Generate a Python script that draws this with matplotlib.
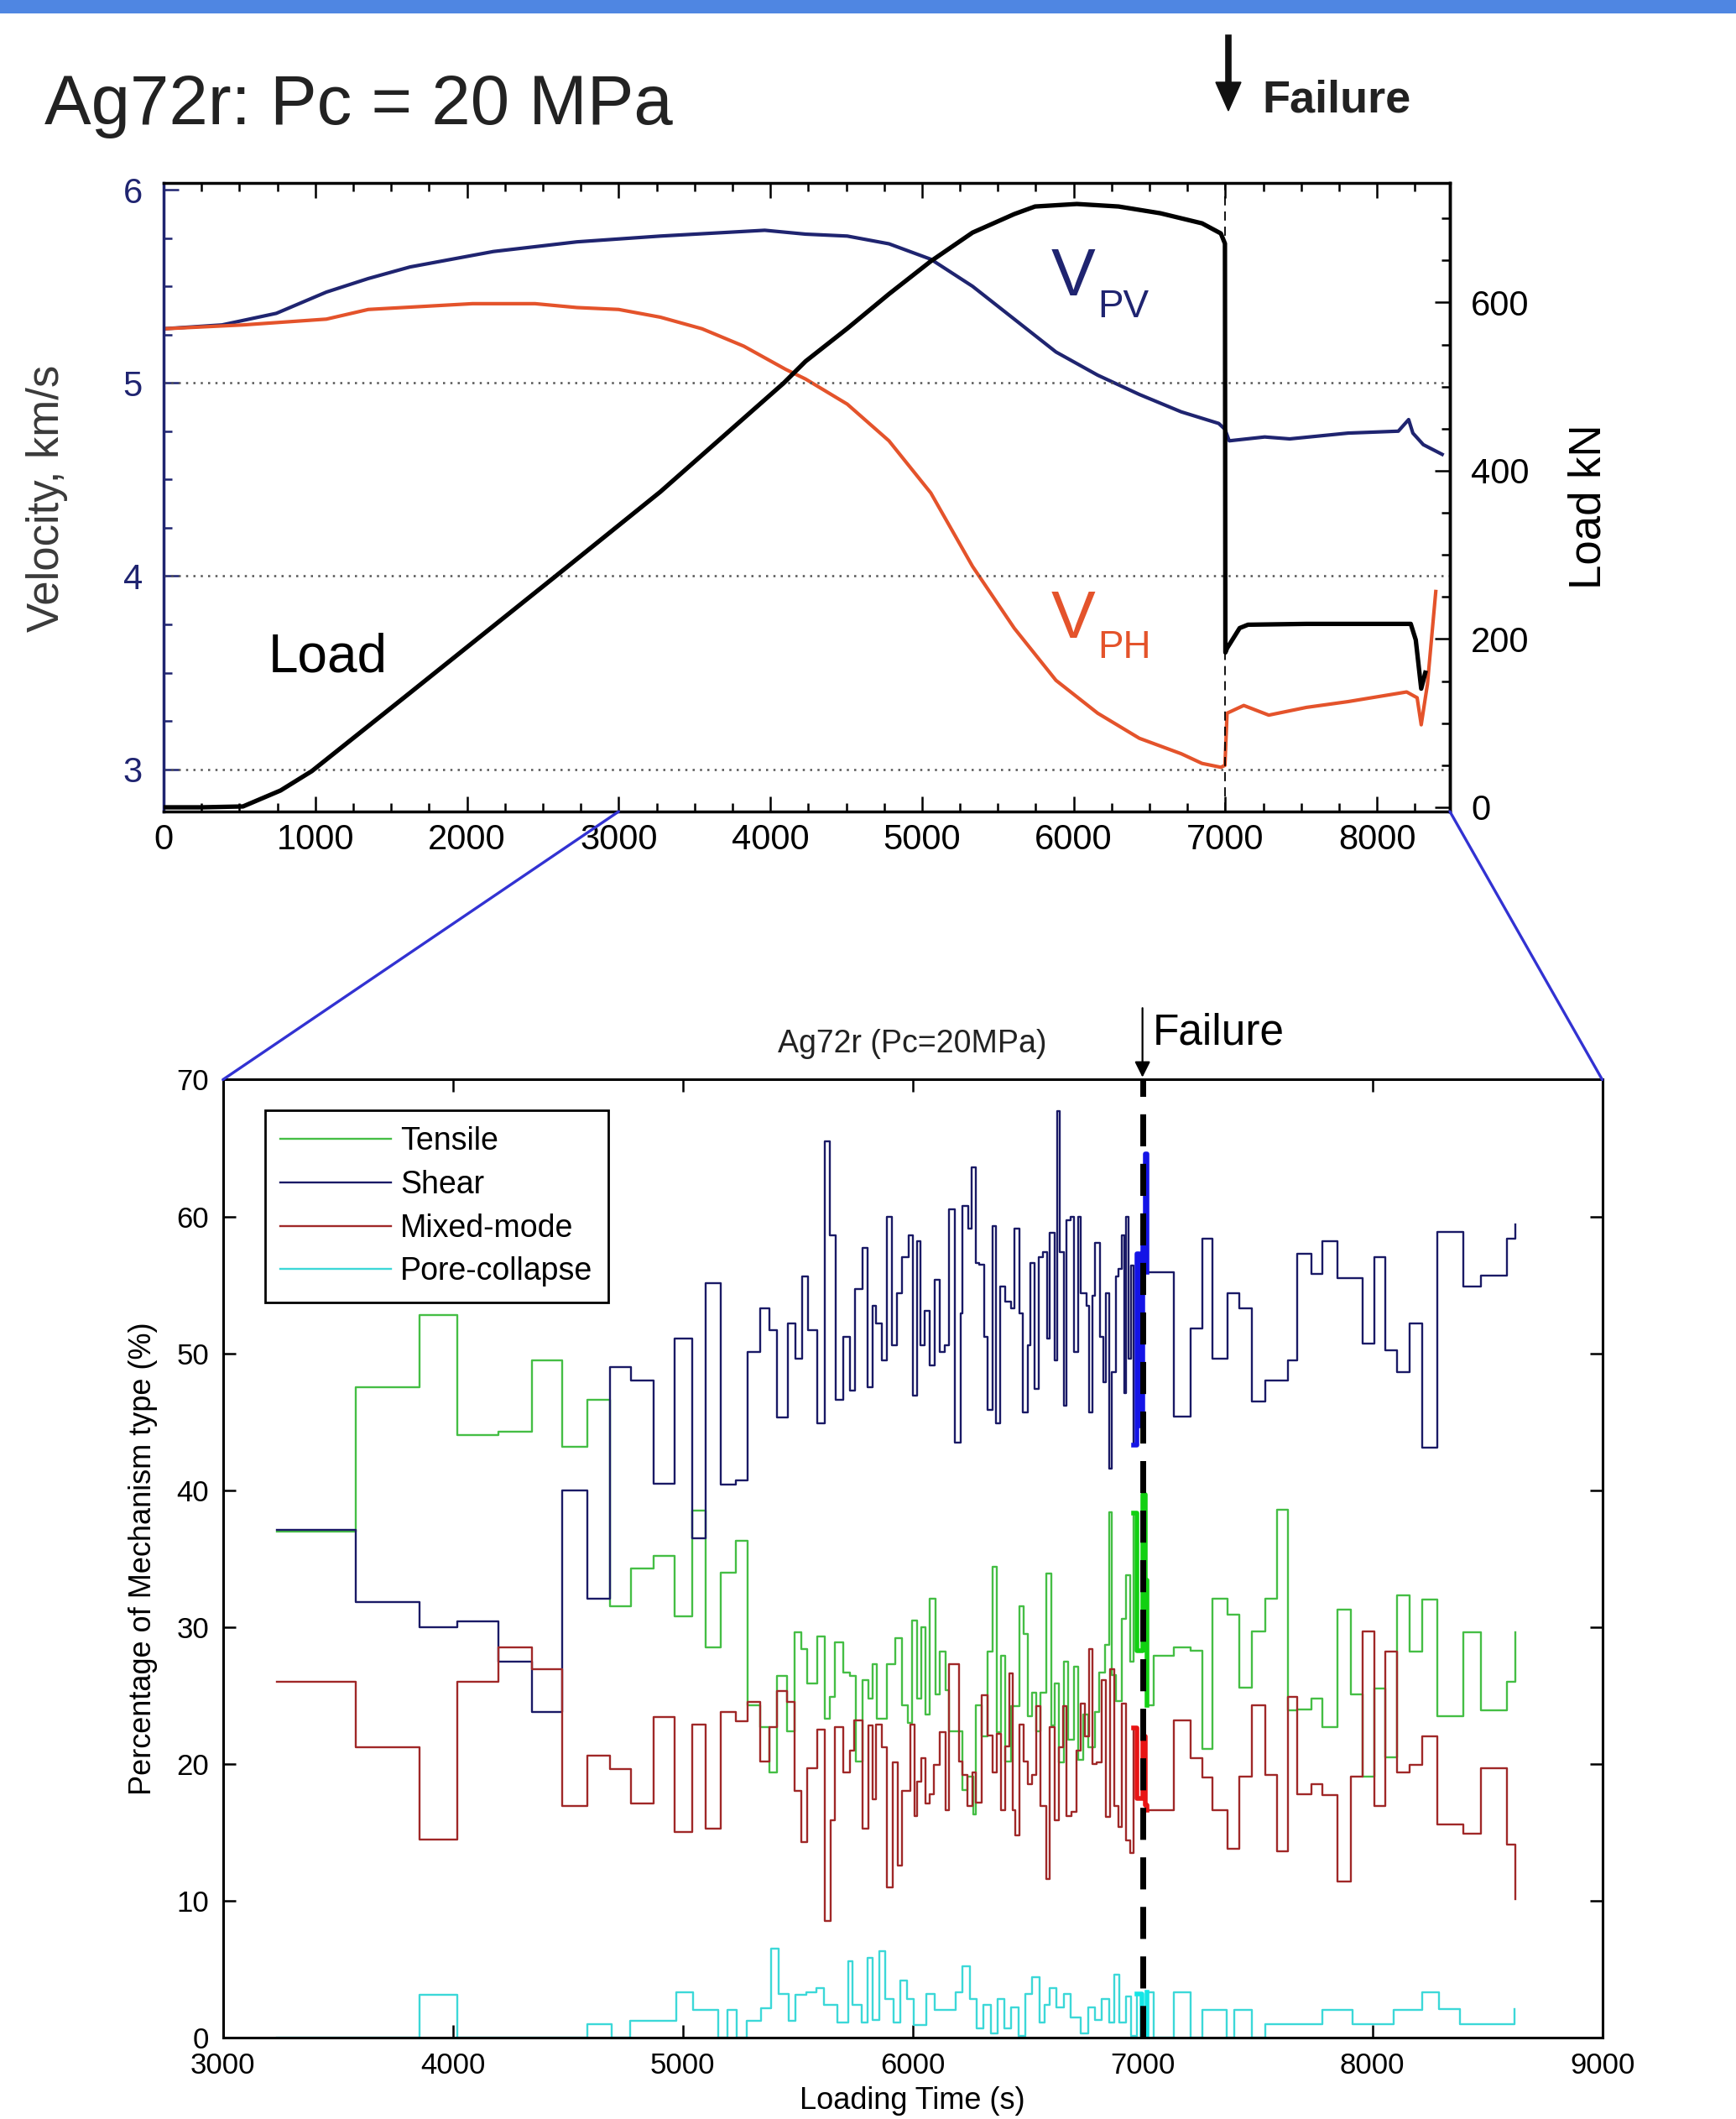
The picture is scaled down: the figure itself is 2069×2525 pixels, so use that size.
import numpy as np
import matplotlib.pyplot as plt
from matplotlib.patches import Rectangle, ConnectionPatch
from matplotlib.lines import Line2D

# ---- top panel: velocities and load vs time ----
vpv_t = [0, 385, 743, 1073, 1349, 1624, 2174, 2724, 3275, 3963, 4232, 4507, 4782, 5058, 5333,
         5608, 5883, 6158, 6433, 6709, 6956, 6997, 7025, 7259, 7424, 7809, 8140, 8208, 8236,
         8305, 8429]
vpv = [5.28, 5.30, 5.36, 5.47, 5.54, 5.60, 5.68, 5.73, 5.76, 5.79, 5.77, 5.76, 5.72, 5.64, 5.50,
       5.33, 5.16, 5.04, 4.94, 4.85, 4.79, 4.76, 4.70, 4.72, 4.71, 4.74, 4.75, 4.81, 4.74,
       4.68, 4.63]

vph_t = [0, 523, 1073, 1349, 2036, 2449, 2724, 3000, 3275, 3550, 3825, 4101, 4232, 4507, 4782,
         5058, 5333, 5608, 5883, 6158, 6433, 6709, 6846, 6970, 6997, 7011, 7121, 7286, 7534,
         7809, 8195, 8264, 8291, 8332, 8387]
vph = [5.28, 5.30, 5.33, 5.38, 5.41, 5.41, 5.39, 5.38, 5.34, 5.28, 5.19, 5.07, 5.02, 4.89, 4.70,
       4.43, 4.05, 3.73, 3.46, 3.29, 3.16, 3.08, 3.03, 3.01, 3.02, 3.29, 3.33, 3.28, 3.32,
       3.35, 3.40, 3.37, 3.23, 3.44, 3.92]

load_t = [0, 248, 523, 771, 977, 1624, 2573, 3275, 4087, 4232, 4507, 4782, 5058, 5333, 5608,
          5745, 6021, 6296, 6571, 6846, 6970, 6997, 7000, 7011, 7094, 7149, 7534, 8222, 8255,
          8291, 8318]
load_kn = [0, 0, 1, 20, 43, 136, 273, 375, 504, 530, 569, 610, 649, 683, 705,
           714, 717, 714, 706, 694, 682, 670, 184, 189, 213, 217, 218, 218, 199,
           141, 160]

# ---- bottom panel: mechanism percentages (stairs) ----
shear_t = [3233, 3576, 3855, 4020, 4199, 4344, 4474, 4586, 4684, 4775,
           4875, 4964, 5042, 5098, 5166, 5231, 5282, 5337, 5378, 5410,
           5457, 5489, 5519, 5544, 5585, 5619, 5641, 5664, 5698, 5729,
           5750, 5783, 5804, 5826, 5842, 5868, 5889, 5911, 5932, 5954,
           5984, 6002, 6021, 6033, 6051, 6075, 6096, 6118, 6140, 6160,
           6185, 6209, 6218, 6242, 6258, 6276, 6288, 6310, 6327, 6349,
           6364, 6382, 6401, 6428, 6444, 6465, 6479, 6501, 6513, 6531,
           6550, 6568, 6586, 6598, 6617, 6629, 6641, 6659, 6671, 6687,
           6702, 6720, 6732, 6756, 6769, 6781, 6793, 6817, 6830, 6842,
           6854, 6866, 6884, 6896, 6909, 6921, 6927, 6939, 6951, 6963,
           6975, 6988, 7000, 7012, 7019, 7138, 7208, 7259, 7306, 7371,
           7422, 7475, 7534, 7631, 7673, 7736, 7783, 7848, 7957, 8008,
           8055, 8109, 8162, 8218, 8283, 8395, 8474, 8586, 8621]
shear = [37.1, 31.8, 30.0, 30.4, 27.5, 23.8, 40.0, 32.1, 49.0, 48.0,
         40.5, 51.1, 36.5, 55.1, 40.4, 40.7, 50.1, 53.3, 51.7, 45.3,
         52.2, 49.6, 55.6, 51.7, 44.9, 65.5, 58.6, 46.6, 51.2, 47.3,
         54.7, 57.7, 47.5, 53.5, 52.2, 49.5, 60.0, 50.6, 54.4, 57.0,
         58.6, 46.9, 58.2, 50.6, 53.1, 49.1, 55.4, 50.1, 50.6, 60.5,
         43.5, 52.9, 60.8, 59.1, 63.6, 56.6, 56.5, 51.2, 45.9, 59.3,
         44.9, 54.9, 53.8, 53.3, 59.1, 52.9, 45.7, 50.6, 56.6, 47.4,
         57.0, 57.4, 51.1, 58.8, 49.5, 67.7, 57.4, 46.2, 59.7, 60.0,
         50.1, 60.0, 54.4, 53.5, 45.7, 54.2, 58.1, 51.2, 47.9, 54.4,
         41.6, 48.6, 55.6, 56.2, 58.6, 47.1, 60.0, 49.6, 56.4, 43.3,
         57.3, 44.7, 59.2, 64.6, 55.9, 45.4, 51.8, 58.4, 49.6, 54.4,
         53.3, 46.5, 48.0, 49.5, 57.3, 55.8, 58.2, 55.5, 50.7, 57.0,
         50.2, 48.6, 52.2, 43.1, 58.9, 54.9, 55.7, 58.4, 59.4]

tensile_t = [3233, 3576, 3855, 4020, 4199, 4344, 4474, 4586, 4684, 4775,
             4875, 4964, 5042, 5098, 5166, 5231, 5282, 5337, 5376, 5410,
             5455, 5485, 5516, 5540, 5585, 5617, 5641, 5662, 5698, 5729,
             5753, 5783, 5808, 5826, 5844, 5887, 5923, 5954, 5978, 5996,
             6021, 6039, 6057, 6075, 6100, 6118, 6142, 6160, 6215, 6240,
             6264, 6276, 6300, 6325, 6349, 6367, 6386, 6404, 6428, 6465,
             6483, 6501, 6519, 6538, 6556, 6580, 6602, 6617, 6635, 6659,
             6677, 6702, 6720, 6744, 6763, 6793, 6811, 6836, 6854, 6866,
             6884, 6909, 6927, 6945, 6963, 6975, 7000, 7012, 7019, 7049,
             7138, 7208, 7259, 7306, 7371, 7422, 7475, 7534, 7585, 7631,
             7673, 7736, 7783, 7848, 7906, 7957, 8008, 8055, 8109, 8162,
             8218, 8283, 8395, 8474, 8586, 8621]
tensile = [37.0, 47.5, 52.8, 44.0, 44.3, 49.5, 43.2, 46.6, 31.5, 34.3,
           35.2, 30.8, 38.5, 28.5, 34.0, 36.3, 24.3, 22.7, 19.4, 26.4,
           22.4, 29.6, 28.4, 25.9, 29.3, 23.3, 24.9, 28.9, 26.7, 26.4,
           20.2, 26.1, 24.8, 27.3, 23.3, 27.3, 29.2, 24.3, 23.0, 30.5,
           24.8, 30.0, 23.6, 32.1, 25.1, 28.2, 25.4, 22.4, 18.1, 19.1,
           16.3, 24.3, 22.0, 28.2, 34.4, 22.3, 27.9, 20.2, 24.2, 31.5,
           29.5, 23.5, 25.2, 22.4, 25.2, 33.9, 22.8, 25.9, 20.1, 27.5,
           21.8, 27.1, 20.3, 23.6, 21.2, 23.8, 26.7, 28.7, 38.4, 26.5,
           24.6, 30.6, 33.8, 27.5, 38.3, 28.3, 39.7, 33.4, 24.3, 27.9,
           28.5, 28.3, 21.1, 32.1, 30.9, 25.6, 29.7, 32.1, 38.6, 23.9,
           24.0, 24.8, 22.7, 31.3, 25.1, 19.1, 25.5, 20.5, 32.3, 28.2,
           32.0, 23.5, 29.6, 23.9, 26.0, 29.6]

mixed_t = [3233, 3576, 3855, 4020, 4199, 4344, 4474, 4586, 4684, 4775,
           4875, 4964, 5042, 5098, 5166, 5231, 5282, 5337, 5376, 5410,
           5455, 5485, 5516, 5540, 5585, 5617, 5643, 5662, 5698, 5729,
           5747, 5783, 5808, 5826, 5842, 5868, 5887, 5913, 5935, 5954,
           5990, 6008, 6021, 6039, 6057, 6075, 6093, 6118, 6142, 6160,
           6203, 6218, 6240, 6261, 6276, 6300, 6325, 6349, 6367, 6386,
           6404, 6422, 6434, 6446, 6465, 6483, 6501, 6519, 6538, 6556,
           6580, 6598, 6617, 6635, 6653, 6671, 6690, 6714, 6732, 6750,
           6769, 6781, 6799, 6823, 6842, 6860, 6878, 6896, 6909, 6927,
           6945, 6963, 6975, 7000, 7012, 7019, 7138, 7208, 7259, 7306,
           7371, 7422, 7475, 7534, 7585, 7631, 7673, 7736, 7783, 7848,
           7906, 7957, 8008, 8055, 8109, 8162, 8218, 8283, 8395, 8474,
           8586, 8621]
mixed = [26.0, 21.2, 14.5, 26.0, 28.5, 26.9, 16.9, 20.6, 19.6, 17.1,
         23.4, 15.0, 22.9, 15.3, 23.8, 23.1, 24.5, 20.2, 22.7, 25.3,
         24.5, 18.0, 14.3, 19.7, 22.5, 8.5, 15.9, 22.7, 19.4, 21.0,
         23.2, 15.3, 22.8, 17.4, 22.9, 21.2, 11.0, 20.1, 12.6, 18.0,
         22.9, 16.2, 18.7, 20.4, 17.1, 17.8, 19.9, 22.3, 16.6, 27.3,
         20.2, 19.2, 16.9, 19.4, 17.2, 25.0, 22.1, 19.4, 22.2, 16.6,
         21.3, 26.6, 16.6, 14.8, 22.9, 20.2, 18.5, 19.2, 24.2, 16.9,
         11.6, 22.7, 15.9, 21.2, 24.2, 16.2, 16.5, 21.0, 24.4, 22.0,
         28.4, 20.0, 20.1, 26.1, 16.1, 26.9, 16.9, 15.4, 24.4, 14.4,
         13.5, 22.6, 17.5, 22.0, 17.0, 16.6, 23.2, 20.4, 19.0, 16.6,
         13.8, 19.1, 24.3, 19.2, 13.6, 24.9, 17.8, 18.5, 17.7, 11.4,
         19.1, 29.7, 16.9, 28.2, 19.4, 19.9, 22.0, 15.6, 14.9, 19.7,
         14.1, 10.1]

pore_t = [3233, 3855, 4020, 4586, 4690, 4772, 4971, 5044, 5153, 5196,
          5235, 5280, 5341, 5386, 5416, 5462, 5492, 5537, 5583, 5613,
          5674, 5719, 5740, 5779, 5804, 5825, 5855, 5880, 5916, 5946,
          5976, 6006, 6061, 6097, 6188, 6218, 6248, 6279, 6309, 6339,
          6369, 6400, 6430, 6460, 6491, 6521, 6551, 6575, 6596, 6627,
          6657, 6687, 6733, 6763, 6793, 6823, 6854, 6878, 6899, 6929,
          6951, 6975, 6996, 7019, 7049, 7138, 7208, 7259, 7368, 7398,
          7475, 7534, 7783, 7913, 8094, 8215, 8291, 8382, 8620]
pore = [0, 3.1, 0, 1.0, 0, 1.2, 3.3, 2.05, 0, 2.05,
        0, 1.2, 2.15, 6.5, 3.2, 1.2, 3.1, 3.3, 3.6, 2.4,
        1.1, 5.6, 2.4, 1.1, 5.8, 1.3, 6.3, 2.8, 1.1, 4.2,
        2.8, 0.9, 3.2, 2.05, 3.3, 5.2, 2.8, 0.7, 2.4, 0.3,
        2.8, 0.7, 2.2, 0.1, 3.2, 4.4, 1.1, 2.4, 3.6, 2.2,
        3.2, 1.5, 0.3, 2.2, 1.3, 2.8, 1.1, 4.6, 1.1, 3.0,
        0.1, 3.2, 0.1, 3.3, 0, 3.3, 0, 2.0, 0, 2.0,
        0, 1.0, 2.0, 1.0, 2.0, 3.3, 2.1, 1.0, 2.1]

W, H = 2069, 2525
def fx(px):
    return px / W
def fy(py):
    return 1 - py / H

plt.rcParams['font.family'] = ['Liberation Sans', 'DejaVu Sans']
narrow = ['Liberation Sans Narrow', 'Liberation Sans']

fig = plt.figure(figsize=(W / 100, H / 100), dpi=100)
fig.patch.set_facecolor('white')

# blue banner along the top edge
fig.add_artist(Rectangle((0, fy(16)), 1, 16 / H, transform=fig.transFigure,
                         color='#4f86e2', lw=0))

# ================= top panel =================
navy = '#1f2470'
orange = '#e4532b'
ax1 = fig.add_axes([fx(195), fy(967), fx(1728) - fx(195), (967 - 218) / H])
ax1r = ax1.twinx()

ax1.plot(vpv_t, vpv, color=navy, lw=3)
ax1.plot(vph_t, vph, color=orange, lw=3)
ax1r.plot(load_t, load_kn, color='black', lw=3.8)

ax1.set_xlim(0, 8480)
ax1.set_ylim(2.781, 6.035)
ax1r.set_ylim(-5, 742)

for v in [3, 4, 5]:
    ax1.axhline(v, color='#555555', ls=(0, (1, 2.5)), lw=1.8)
ax1.axvline(7000, color='black', ls=(0, (6, 4)), lw=1.3)

ax1.set_xticks(range(0, 9000, 1000))
ax1.set_xticks(np.arange(0, 8480, 250), minor=True)
ax1.set_yticks([3, 4, 5, 6])
ax1.set_yticks(np.arange(3, 6.01, 0.25), minor=True)
ax1r.set_yticks([0, 200, 400, 600])
ax1r.set_yticks(np.arange(0, 741, 50), minor=True)

ax1.tick_params(axis='x', which='both', direction='in', top=True, bottom=True, width=1.8,
                labelsize=30, pad=10)
ax1.tick_params(axis='x', which='major', length=13)
ax1.tick_params(axis='x', which='minor', length=7)
ax1.tick_params(axis='y', which='both', direction='in', left=True, right=False, width=1.8,
                colors=navy, labelsize=30, pad=18)
ax1.tick_params(axis='y', which='major', length=13)
ax1.tick_params(axis='y', which='minor', length=7)
ax1r.tick_params(axis='y', which='both', direction='in', width=1.8, labelsize=30, pad=18)
ax1r.tick_params(axis='y', which='major', length=13)
ax1r.tick_params(axis='y', which='minor', length=7)
for lab in ax1.get_xticklabels() + ax1.get_yticklabels() + ax1r.get_yticklabels():
    lab.set_family(narrow)

for s in ax1.spines.values():
    s.set_linewidth(2.5)
ax1.spines['left'].set_color(navy)
ax1r.spines['left'].set_visible(False)
ax1r.spines['top'].set_visible(False)
ax1r.spines['bottom'].set_visible(False)
ax1r.spines['right'].set_linewidth(2.5)

ax1.text(690, 3.58, 'Load', fontsize=46, va='center', ha='left')
ax1.text(5850, 5.54, 'V', fontsize=57, color=navy, va='center', ha='left')
ax1.text(6160, 5.39, 'PV', fontsize=33, color=navy, va='center', ha='left')
ax1.text(5850, 3.77, 'V', fontsize=57, color=orange, va='center', ha='left')
ax1.text(6160, 3.63, 'PH', fontsize=33, color=orange, va='center', ha='left')

fig.text(fx(53), fy(148), 'Ag72r: Pc = 20 MPa', fontsize=60, ha='left', va='baseline',
         color='#222222')
fig.text(fx(56), fy(594), 'Velocity, km/s', fontsize=38, rotation=90, ha='center',
         va='center', color='#3a3a3a')
fig.text(fx(1893), fy(604), 'Load kN', fontsize=38, rotation=90, ha='center', va='center')

# bold "Failure" marker at the top
fig.text(fx(1504), fy(134), 'Failure', fontsize=39, fontweight='bold', ha='left',
         va='baseline', color='#222222')
fig.add_artist(Line2D([fx(1464), fx(1464)], [fy(45), fy(105)], transform=fig.transFigure,
                      color='#111111', lw=5.5))
fig.add_artist(plt.Polygon([[fx(1449), fy(98)], [fx(1479), fy(98)], [fx(1464), fy(132)]],
                           closed=True, transform=fig.transFigure, color='#111111'))

# ================= bottom panel =================
ax2 = fig.add_axes([fx(265.7), fy(2428), fx(1909.6) - fx(265.7), (2428 - 1286.5) / H])

c_ten, c_she, c_mix, c_por = '#45be45', '#1a1a66', '#a02828', '#3cd8d8'
ax2.step(tensile_t, tensile, where='post', color=c_ten, lw=1.7, label='Tensile')
ax2.step(shear_t, shear, where='post', color=c_she, lw=1.7, label='Shear')
ax2.step(mixed_t, mixed, where='post', color=c_mix, lw=1.7, label='Mixed-mode')
ax2.step(pore_t, pore, where='post', color=c_por, lw=1.7, label='Pore-collapse')

# the crowded bins right before failure show up as bright saturated blobs
for tt, vv, col in [(tensile_t, tensile, '#12d012'), (shear_t, shear, '#1414e6'),
                    (mixed_t, mixed, '#e81414'), (pore_t, pore, '#14e6e6')]:
    tt = np.array(tt)
    vv = np.array(vv)
    m = (tt >= 6960) & (tt <= 7020)
    ax2.step(tt[m], vv[m], where='post', color=col, lw=4)

ax2.axvline(7000, color='black', lw=5, ls=(0, (5.5, 3)))

ax2.set_xlim(3000, 9000)
ax2.set_ylim(0, 70)
ax2.set_xticks(range(3000, 9001, 1000))
ax2.set_yticks(range(0, 71, 10))
ax2.tick_params(direction='in', top=True, right=True, length=11, width=1.8,
                labelsize=25, pad=12)
for s in ax2.spines.values():
    s.set_linewidth(2.2)
ax2.set_xlabel('Loading Time (s)', fontsize=26, labelpad=6)
ax2.set_ylabel('Percentage of Mechanism type (%)', fontsize=26, labelpad=16)

ax2.text(6000, 71.5, 'Ag72r (Pc=20MPa)', fontsize=27, ha='center', va='bottom',
         color='#222222')
ax2.annotate('', xy=(7000, 70), xytext=(7000, 75.4), annotation_clip=False,
             arrowprops=dict(arrowstyle='-|>', color='black', lw=1.6, mutation_scale=28))
ax2.text(7045, 73.4, 'Failure', fontsize=37, ha='left', va='center')

leg = ax2.legend(loc='upper left', bbox_to_anchor=(0.0304, 0.9676), borderaxespad=0,
                 fontsize=27, handlelength=3.5, handletextpad=0.3, labelspacing=0.42,
                 borderpad=0.5, fancybox=False, framealpha=1, edgecolor='black')
leg.get_frame().set_linewidth(2)

# blue zoom connectors from the top panel to the bottom panel
for xyA, xyB in [((3000 / 8480, 0), (0, 1)), ((1, 0), (1, 1))]:
    con = ConnectionPatch(xyA=xyA, coordsA=ax1.transAxes, xyB=xyB, coordsB=ax2.transAxes,
                          color='#3232d2', lw=2.4)
    fig.add_artist(con)

fig.savefig('out.png', dpi=100)
